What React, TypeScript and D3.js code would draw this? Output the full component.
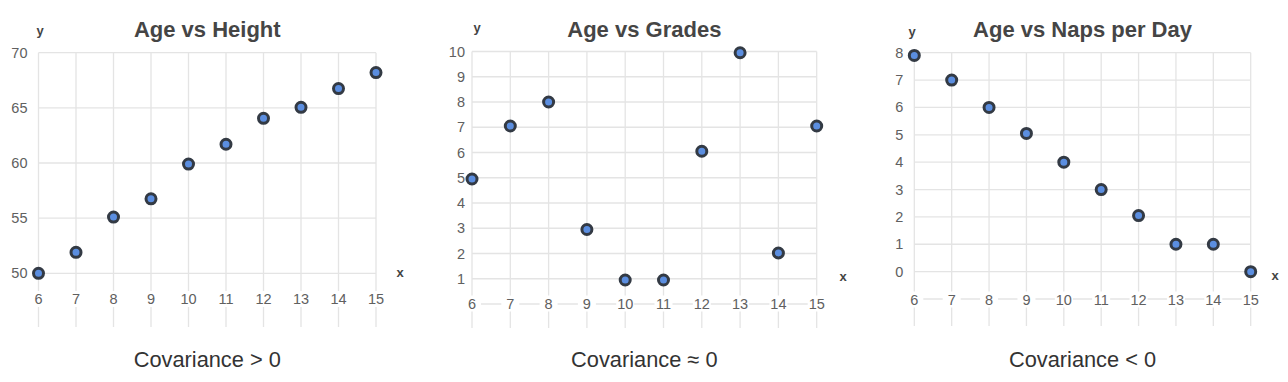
import React from "react";
import * as d3 from "d3";

const ages = [6, 7, 8, 9, 10, 11, 12, 13, 14, 15];
const heights = [50, 51.9, 55.1, 56.75, 59.9, 61.7, 64.05, 65.05, 66.75, 68.2];
const grades = [4.95, 7.05, 8, 2.95, 0.95, 0.95, 6.05, 9.95, 2.02, 7.05];
const naps = [7.9, 7, 6, 5.05, 4, 3, 2.05, 1, 1, 0];

const heightTicks = [50, 55, 60, 65, 70];
const gradeTicks = [1, 2, 3, 4, 5, 6, 7, 8, 9, 10];
const napTicks = [0, 1, 2, 3, 4, 5, 6, 7, 8];

const titles = ["Age vs Height", "Age vs Grades", "Age vs Naps per Day"];
const captions = ["Covariance > 0", "Covariance \u2248 0", "Covariance < 0"];

const FONT = "'Liberation Sans', Arial, Helvetica, sans-serif";

type PanelProps = {
  title: string;
  caption: string;
  values: number[];
  yTicks: number[];
  gridLines: number[];
  yDomain: [number, number];
  xRange: [number, number];
  yRange: [number, number];
  labelBaseline: number;
  gridBottom: number;
  yLabelGap: number;
  xLabelPos: [number, number];
  yLabelPos: [number, number];
};

function Panel(p: PanelProps) {
  const x = d3.scaleLinear().domain([6, 15]).range(p.xRange);
  const y = d3.scaleLinear().domain(p.yDomain).range(p.yRange);
  const cx = (p.xRange[0] + p.xRange[1]) / 2;
  const grid = "#e4e4e4";
  return (
    <g>
      {p.gridLines.map((t) => (
        <line key={"h" + t} x1={p.xRange[0]} x2={p.xRange[1]} y1={y(t)} y2={y(t)} stroke={grid} strokeWidth={1.3} />
      ))}
      {ages.map((a) => (
        <line key={"v" + a} x1={x(a)} x2={x(a)} y1={y(p.yDomain[1])} y2={p.gridBottom} stroke={grid} strokeWidth={1.3} />
      ))}
      {p.yTicks.map((t) => (
        <text key={"yt" + t} x={p.xRange[0] - p.yLabelGap} y={y(t) + 5} textAnchor="end" fontSize={14.5} fill="#606060" fontFamily={FONT}>
          {t}
        </text>
      ))}
      {ages.map((a) => (
        <g key={"xt" + a}>
          <rect x={x(a) - 9} y={p.labelBaseline - 13} width={18} height={16} fill="white" />
          <text x={x(a)} y={p.labelBaseline} textAnchor="middle" fontSize={14.5} fill="#606060" fontFamily={FONT}>
            {a}
          </text>
        </g>
      ))}
      {ages.map((a, i) => (
        <circle key={"c" + a} cx={x(a)} cy={y(p.values[i])} r={5} fill="#5b8ee0" stroke="#333a44" strokeWidth={3} />
      ))}
      <text x={cx} y={37} textAnchor="middle" fontSize={22} fontWeight="bold" fill="#454545" fontFamily={FONT}>
        {p.title}
      </text>
      <text x={p.yLabelPos[0]} y={p.yLabelPos[1]} textAnchor="middle" fontSize={13} fontWeight="bold" fill="#444" fontFamily={FONT}>
        y
      </text>
      <text x={p.xLabelPos[0]} y={p.xLabelPos[1]} textAnchor="middle" fontSize={13} fontWeight="bold" fill="#444" fontFamily={FONT}>
        x
      </text>
      <text x={cx} y={367} textAnchor="middle" fontSize={21.8} fill="#333" fontFamily={FONT}>
        {p.caption}
      </text>
    </g>
  );
}

export default function App() {
  return (
    <svg
      width={1288}
      height={382}
      style={{ position: "absolute", left: 0, top: 0, background: "white" }}
    >
      <rect width={1288} height={382} fill="white" />
      <Panel
        title={titles[0]}
        caption={captions[0]}
        values={heights}
        yTicks={heightTicks}
        gridLines={heightTicks}
        yDomain={[50, 70]}
        xRange={[38.5, 376]}
        yRange={[273.3, 52.7]}
        labelBaseline={304}
        gridBottom={327}
        yLabelGap={11}
        xLabelPos={[400, 277]}
        yLabelPos={[40, 35]}
      />
      <Panel
        title={titles[1]}
        caption={captions[1]}
        values={grades}
        yTicks={gradeTicks}
        gridLines={[0, ...gradeTicks]}
        yDomain={[0, 10]}
        xRange={[472, 816.7]}
        yRange={[304, 51.5]}
        labelBaseline={308.5}
        gridBottom={328}
        yLabelGap={7}
        xLabelPos={[843, 281]}
        yLabelPos={[477, 32]}
      />
      <Panel
        title={titles[2]}
        caption={captions[2]}
        values={naps}
        yTicks={napTicks}
        gridLines={[-1, ...napTicks]}
        yDomain={[-1, 8]}
        xRange={[914.3, 1250.7]}
        yRange={[299, 52.7]}
        labelBaseline={304.5}
        gridBottom={326}
        yLabelGap={11}
        xLabelPos={[1275, 280]}
        yLabelPos={[912, 36]}
      />
    </svg>
  );
}
